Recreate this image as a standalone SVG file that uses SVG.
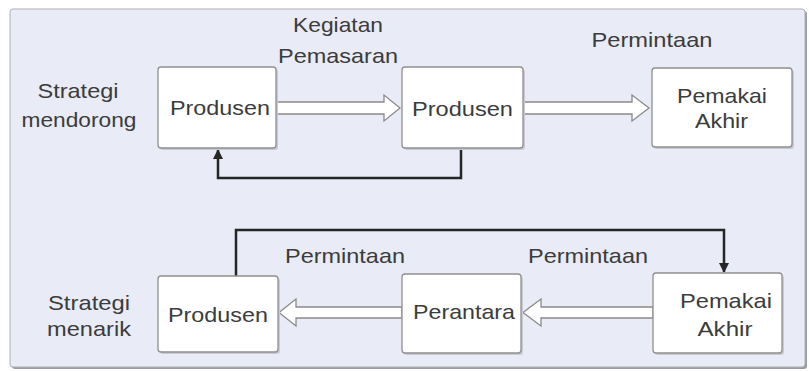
<svg xmlns="http://www.w3.org/2000/svg" width="809" height="371" viewBox="0 0 809 371">
<defs>
<style>
.t{font-family:"Liberation Sans",Arial,sans-serif;font-size:21px;fill:#3c3c3c;text-anchor:middle}
.box{fill:#ffffff;stroke:#909090;stroke-width:1.3}
.sh{fill:#c9cad3}
.blk{fill:#ffffff;stroke:#8a8a8a;stroke-width:1.3;stroke-linejoin:miter}
.con{fill:none;stroke:#262626;stroke-width:2.5}
</style>
<marker id="ah" viewBox="0 0 10 10" refX="9" refY="5" markerWidth="4" markerHeight="4" orient="auto" markerUnits="strokeWidth">
<path d="M0,0 L10,5 L0,10 Z" fill="#262626"/>
</marker>
</defs>
<rect x="12" y="11" width="795" height="358" rx="3" fill="#9a9aa2"/>
<rect x="10" y="9" width="795" height="358" rx="3" fill="#e9ebf6" stroke="#b0b0b8" stroke-width="1"/>

<g id="label-kegiatan">
<text class="t" x="338" y="32" textLength="90" lengthAdjust="spacingAndGlyphs">Kegiatan</text>
<text class="t" x="338" y="63" textLength="120" lengthAdjust="spacingAndGlyphs">Pemasaran</text>
</g>
<text class="t" x="652" y="47" textLength="121" lengthAdjust="spacingAndGlyphs">Permintaan</text>
<text class="t" x="78" y="98" textLength="81" lengthAdjust="spacingAndGlyphs">Strategi</text>
<text class="t" x="79" y="127" textLength="115" lengthAdjust="spacingAndGlyphs">mendorong</text>
<text class="t" x="89" y="310" textLength="82" lengthAdjust="spacingAndGlyphs">Strategi</text>
<text class="t" x="89" y="336" textLength="84" lengthAdjust="spacingAndGlyphs">menarik</text>
<text class="t" x="345" y="263" textLength="120" lengthAdjust="spacingAndGlyphs">Permintaan</text>
<text class="t" x="588" y="263" textLength="120" lengthAdjust="spacingAndGlyphs">Permintaan</text>

<g id="connectors">
<path class="blk" d="M276,102 L384,102 L384,95 L400,108 L384,121 L384,114 L276,114 Z"/>
<path class="blk" d="M523,102 L632,102 L632,95 L649,108 L632,121 L632,114 L523,114 Z"/>
<path class="blk" d="M402,307 L296,307 L296,299 L279,312.5 L296,326 L296,318 L402,318 Z"/>
<path class="blk" d="M653,307 L541,307 L541,299 L523,312.5 L541,326 L541,318 L653,318 Z"/>
<path class="con" d="M461,148 L461,178 L218,178 L218,150" marker-end="url(#ah)"/>
<path class="con" d="M236,276 L236,230 L724,230 L724,272" marker-end="url(#ah)"/>
</g>

<g id="n-produsen1">
<rect class="sh" x="160" y="69" width="118" height="81" rx="3"/>
<rect class="box" x="158" y="67" width="118" height="81" rx="3"/>
<text class="t" x="220" y="115" textLength="100" lengthAdjust="spacingAndGlyphs">Produsen</text>
</g>
<g id="n-produsen2">
<rect class="sh" x="404" y="69" width="121" height="81" rx="3"/>
<rect class="box" x="402" y="67" width="121" height="81" rx="3"/>
<text class="t" x="462.5" y="116" textLength="101" lengthAdjust="spacingAndGlyphs">Produsen</text>
</g>
<g id="n-pemakai1">
<rect class="sh" x="654" y="70" width="140" height="79" rx="3"/>
<rect class="box" x="652" y="68" width="140" height="79" rx="3"/>
<text class="t" x="722" y="103" textLength="90" lengthAdjust="spacingAndGlyphs">Pemakai</text>
<text class="t" x="721.5" y="128" textLength="53" lengthAdjust="spacingAndGlyphs">Akhir</text>
</g>
<g id="n-produsen3">
<rect class="sh" x="160" y="278" width="120" height="76" rx="3"/>
<rect class="box" x="158" y="276" width="120" height="76" rx="3"/>
<text class="t" x="218" y="322" textLength="100" lengthAdjust="spacingAndGlyphs">Produsen</text>
</g>
<g id="n-perantara">
<rect class="sh" x="404" y="276" width="119" height="79" rx="3"/>
<rect class="box" x="402" y="274" width="119" height="79" rx="3"/>
<text class="t" x="464" y="319" textLength="102" lengthAdjust="spacingAndGlyphs">Perantara</text>
</g>
<g id="n-pemakai2">
<rect class="sh" x="655" y="275" width="129" height="80" rx="3"/>
<rect class="box" x="653" y="273" width="129" height="80" rx="3"/>
<text class="t" x="726" y="308" textLength="92" lengthAdjust="spacingAndGlyphs">Pemakai</text>
<text class="t" x="725" y="336" textLength="55" lengthAdjust="spacingAndGlyphs">Akhir</text>
</g>
</svg>
